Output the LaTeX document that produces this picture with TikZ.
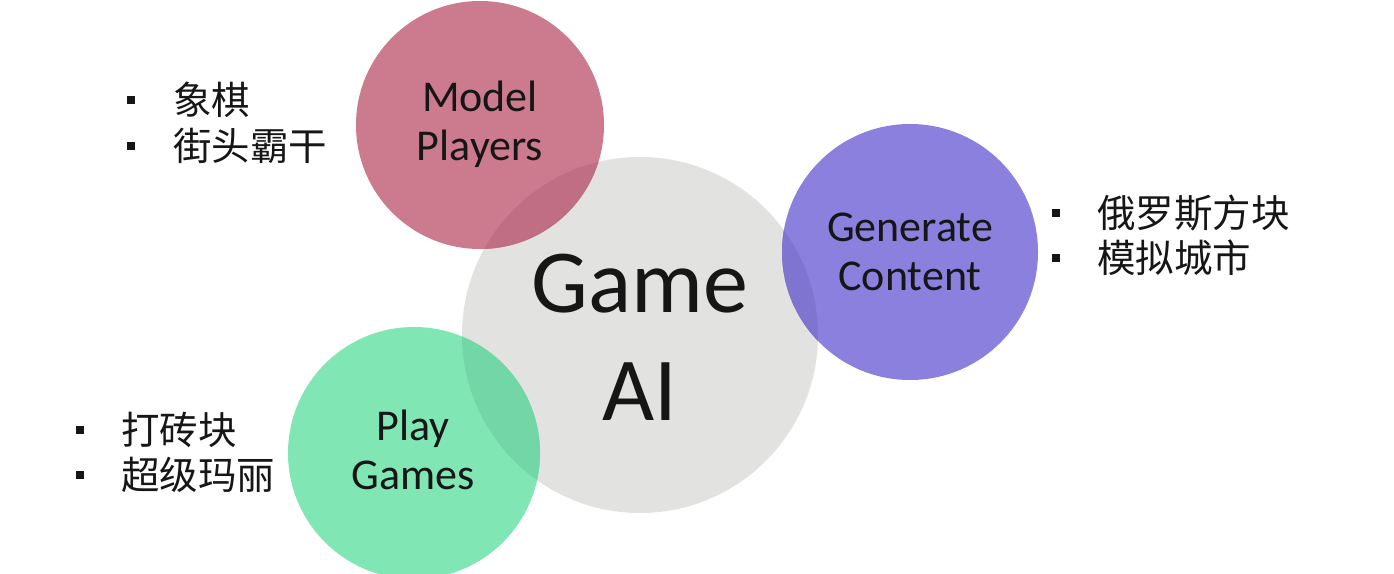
\documentclass[tikz,border=0pt]{standalone}
\usepackage{fontspec}
\setmainfont{Carlito}
\newfontfamily\cjk{Noto Sans CJK SC}
\definecolor{gaigray}{HTML}{E2E2E0}
\definecolor{mpink}{HTML}{CC7A8E}
\definecolor{mpinkdk}{HTML}{C06E83}
\definecolor{gpurple}{HTML}{8B80DE}
\definecolor{gpurpledk}{HTML}{7F75D0}
\definecolor{pgreen}{HTML}{80E6B4}
\definecolor{pgreendk}{HTML}{72D6A6}
\definecolor{txt}{HTML}{161616}
\tikzset{
  bubble/.style={circle, inner sep=0pt, align=center, text=txt,
     font=\fontsize{44}{49}\selectfont},
  bigbubble/.style={circle, inner sep=0pt, align=center, text=txt,
     font=\fontsize{90}{108}\selectfont},
  bul/.style={rectangle, fill=txt, inner sep=0pt, minimum size=7.5pt},
  cn/.style={anchor=west, inner sep=0pt, text=txt, font=\cjk\fontsize{38.5}{38.5}\selectfont}
}
\begin{document}
\begin{tikzpicture}[x=1pt,y=-1pt]
\useasboundingbox (0,0) rectangle (1394,573);
\clip (0,0) rectangle (1394,573);
\fill[white] (0,0) rectangle (1394,573);
% central circle
\node[bigbubble, fill=gaigray, minimum size=356pt] (gai) at (640,335) {};
% satellite circles
\node[bubble, fill=mpink, minimum size=248pt] (mp) at (480,125) {};
\node[bubble, fill=gpurple, minimum size=256pt] (gc) at (910,252) {};
\node[bubble, fill=pgreen, minimum size=252pt] (pg) at (414,453) {};
% overlaps
\begin{scope}
  \clip (mp.center) circle[radius=124pt];
  \fill[mpinkdk] (gai.center) circle[radius=178pt];
\end{scope}
\begin{scope}
  \clip (gc.center) circle[radius=128pt];
  \fill[gpurpledk] (gai.center) circle[radius=178pt];
\end{scope}
\begin{scope}
  \clip (pg.center) circle[radius=126pt];
  \fill[pgreendk] (gai.center) circle[radius=178pt];
\end{scope}
% labels
\node[bigbubble] (gait) at (640,337) {Game\\AI};
\node[bubble] (mpt) at (480,124) {Model\\Players};
\node[bubble] (gct) at (910,252) {Generate\\Content};
\node[bubble] (pgt) at (413,450) {Play\\Games};
% lists
\node[bul] (b1) at (131,100) {};
\node[cn] (t1) at (173,100) {象棋};
\node[bul] (b2) at (131,146) {};
\node[cn] (t2) at (173,146) {街头霸干};
\node[bul] (b3) at (1056,213) {};
\node[cn] (t3) at (1097,213) {俄罗斯方块};
\node[bul] (b4) at (1056,258) {};
\node[cn] (t4) at (1097,258) {模拟城市};
\node[bul] (b5) at (80,430) {};
\node[cn] (t5) at (121,430) {打砖块};
\node[bul] (b6) at (80,475) {};
\node[cn] (t6) at (121,475) {超级玛丽};
\end{tikzpicture}
\end{document}
